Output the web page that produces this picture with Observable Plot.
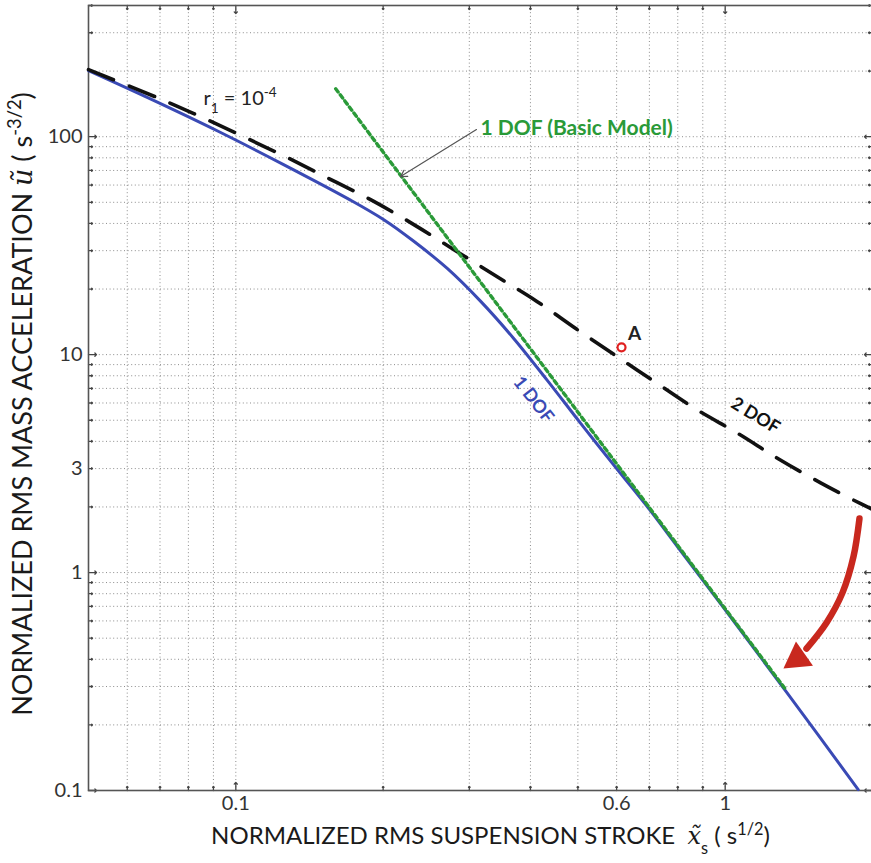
<!DOCTYPE html>
<html><head><meta charset="utf-8">
<script src="https://cdn.jsdelivr.net/npm/d3@7"></script>
<script src="https://cdn.jsdelivr.net/npm/@observablehq/plot@0.6"></script>
<style>
body{margin:0;background:#fff;}
#chart svg{display:block;}
</style></head><body><div id="chart"></div>
<script>
// ---- data ----
const twoDofX = [0.05, 0.0698, 0.0843, 0.1032, 0.127, 0.1553, 0.1902, 0.2329, 0.2812, 0.3408, 0.4116, 0.4968, 0.601, 0.7203, 0.8696, 1.065, 1.286, 1.567, 1.892, 2.0];
const twoDofU = [203, 149.7, 124.2, 100.5, 80.5, 64.1, 50.9, 39.1, 30.0, 22.9, 17.6, 13.1, 9.8, 7.47, 5.64, 4.33, 3.32, 2.58, 2.07, 1.95];
const oneDofX = [0.05, 0.0669, 0.0918, 0.1252, 0.1715, 0.2003, 0.2307, 0.2708, 0.3162, 0.3693, 0.4334, 0.5062, 0.6, 0.7, 0.8, 1.0, 1.33, 1.87];
const oneDofU = [201, 149.1, 106.2, 74.5, 51.2, 41.7, 33.2, 24.8, 17.6, 11.9, 7.6, 4.85, 3.0, 1.95, 1.31, 0.675, 0.286, 0.101];
const basicX = [0.16, 1.33];
const basicU = [166, 0.29];
const pointA = {x: 0.614, u: 10.8};

const xTickLabels = [0.1, 0.6, 1];
const yTickLabels = [0.1, 1, 3, 10, 100];
const xGrid = [0.06, 0.07, 0.08, 0.09, 0.1, 0.2, 0.3, 0.4, 0.5, 0.6, 0.7, 0.8, 0.9, 1, 2];
const yGrid = [0.2, 0.3, 0.4, 0.5, 0.6, 0.7, 0.8, 0.9, 1, 2, 3, 4, 5, 6, 7, 8, 9, 10, 20, 30, 40, 50, 60, 70, 80, 90, 100, 200, 300, 400];
const xMajor = [0.1, 1];
const yMajor = [0.1, 1, 10, 100];

// annotations
const labelText = ["r_{1} = 10^{-4}", "1 DOF (Basic Model)", "A", "2 DOF", "1 DOF"];
const labelX = [0.0859, 0.3162, 0.6528, 1.153, 0.4058];
const labelU = [149.5, 109, 12.5, 5.25, 6.22];
const pointerX = [0.3103, 0.2171];
const pointerU = [107.9, 65.6];
const redArrowX = [1.881, 1.829, 1.737, 1.611, 1.466];
const redArrowU = [1.77, 1.184, 0.809, 0.589, 0.4477];
const redHead = {x: 1.405, u: 0.403};

const xTitle = "NORMALIZED RMS SUSPENSION STROKE  *{x\u0303}_{s} ( s^{1/2})";
const yTitle = "NORMALIZED RMS MASS ACCELERATION *{\u0169} ( s^{-3/2})";

const pts = (xs, us) => xs.map((x, i) => ({x, u: us[i]}));
const minor = (all, major) => all.filter(d => !major.includes(d));

const gridStyle = {stroke: "#8c8c8c", strokeWidth: 1, strokeDasharray: "1,2.6"};
const tickStyle = {stroke: "#444", strokeWidth: 1.3};

const chart = Plot.plot({
  width: 871, height: 863,
  marginLeft: 88, marginRight: -1, marginTop: 5, marginBottom: 73,
  style: {fontFamily: "Lato, 'Open Sans', sans-serif", fontSize: "20px", background: "#fff", color: "#222"},
  x: {type: "log", domain: [0.05, 2]},
  y: {type: "log", domain: [0.1, 400]},
  marks: [
    Plot.ruleX(xGrid, gridStyle),
    Plot.ruleY(yGrid, gridStyle),
    Plot.axisX(xTickLabels, {tickSize: 0, tickPadding: 5, label: null, tickFormat: d => String(d), fill: "#333"}),
    Plot.axisY(yTickLabels, {tickSize: 0, tickPadding: 6, label: null, tickFormat: d => String(d), fill: "#333"}),
    // inward ticks on all four sides
    Plot.vector(yMajor, {y: d => d, frameAnchor: "left", rotate: 90, length: 8, anchor: "start", ...tickStyle}),
    Plot.vector(minor(yGrid, yMajor), {y: d => d, frameAnchor: "left", rotate: 90, length: 4, anchor: "start", ...tickStyle}),
    Plot.vector(yMajor, {y: d => d, frameAnchor: "right", rotate: -90, length: 8, anchor: "start", ...tickStyle}),
    Plot.vector(minor(yGrid, yMajor), {y: d => d, frameAnchor: "right", rotate: -90, length: 4, anchor: "start", ...tickStyle}),
    Plot.vector(xMajor, {x: d => d, frameAnchor: "bottom", rotate: 0, length: 8, anchor: "start", ...tickStyle}),
    Plot.vector(minor(xGrid, xMajor), {x: d => d, frameAnchor: "bottom", rotate: 0, length: 4, anchor: "start", ...tickStyle}),
    Plot.vector(xMajor, {x: d => d, frameAnchor: "top", rotate: 180, length: 8, anchor: "start", ...tickStyle}),
    Plot.vector(minor(xGrid, xMajor), {x: d => d, frameAnchor: "top", rotate: 180, length: 4, anchor: "start", ...tickStyle}),
    Plot.frame({stroke: "#555", strokeWidth: 1.6}),
    // curves
    Plot.line(pts(oneDofX, oneDofU), {x: "x", y: "u", stroke: "#3a4ab5", strokeWidth: 3, curve: "catmull-rom"}),
    Plot.line(pts(twoDofX, twoDofU), {x: "x", y: "u", stroke: "#111", strokeWidth: 3.6, strokeDasharray: "27,17", curve: "catmull-rom"}),
    Plot.line(pts(basicX, basicU), {x: "x", y: "u", stroke: "#2a9a38", strokeWidth: 3.4, strokeDasharray: "4,3.6"}),
    // point A
    Plot.dot([pointA], {x: "x", y: "u", r: 4, stroke: "#e02020", strokeWidth: 2.2, fill: "#fff"}),
    // pointer arrow
    Plot.arrow([0], {x1: () => pointerX[0], y1: () => pointerU[0], x2: () => pointerX[1], y2: () => pointerU[1], stroke: "#555", strokeWidth: 1.2, headLength: 9}),
    // red curved arrow
    Plot.line(pts(redArrowX, redArrowU), {x: "x", y: "u", stroke: "#c8281e", strokeWidth: 6.5, curve: "catmull-rom", strokeLinecap: "round"}),
    Plot.dot([redHead], {x: "x", y: "u", symbol: "triangle", r: 11, rotate: 235, fill: "#c8281e", stroke: "none"}),
    // annotations
    Plot.text([0], {x: i => labelX[i], y: i => labelU[i], text: i => labelText[i], textAnchor: "start", fontSize: 20, fill: "#222"}),
    Plot.text([1], {x: i => labelX[i], y: i => labelU[i], text: i => labelText[i], textAnchor: "start", fontSize: 21, fontWeight: "bold", fill: "#2a9a38"}),
    Plot.text([2], {x: i => labelX[i], y: i => labelU[i], text: i => labelText[i], fontSize: 19, fontWeight: "bold", fill: "#222"}),
    Plot.text([3], {x: i => labelX[i], y: i => labelU[i], text: i => labelText[i], fontSize: 18, fontWeight: "bold", fill: "#111", rotate: 31}),
    Plot.text([4], {x: i => labelX[i], y: i => labelU[i], text: i => labelText[i], fontSize: 18, fontWeight: "bold", fill: "#3a4ab5", rotate: 52}),
    // axis titles
    Plot.text([xTitle], {frameAnchor: "bottom", text: d => d, textAnchor: "middle", dx: 10, dy: 53, fontSize: 24, fill: "#1a1a1a"}),
    Plot.text([yTitle], {frameAnchor: "left", text: d => d, textAnchor: "middle", dx: -65, dy: 6, rotate: -90, fontSize: 27, fill: "#1a1a1a"})
  ]
});

// rich text: ^{sup}, _{sub}, *{italic}
function richify(el) {
  const s = el.textContent;
  if (!/[\^_*]\{/.test(s)) return;
  el.textContent = "";
  const re = /([\^_*])\{([^}]*)\}/g;
  let last = 0, m;
  const add = (t, kind) => {
    if (!t) return;
    const ts = document.createElementNS("http://www.w3.org/2000/svg", "tspan");
    ts.textContent = t;
    if (kind === "^") { ts.setAttribute("baseline-shift", "super"); ts.setAttribute("font-size", "68%"); }
    if (kind === "_") { ts.setAttribute("baseline-shift", "sub"); ts.setAttribute("font-size", "68%"); }
    if (kind === "*") { ts.setAttribute("font-style", "italic"); ts.setAttribute("font-family", "'DejaVu Serif', serif"); }
    el.appendChild(ts);
  };
  while ((m = re.exec(s))) {
    add(s.slice(last, m.index), "");
    add(m[2], m[1]);
    last = re.lastIndex;
  }
  add(s.slice(last), "");
}
chart.querySelectorAll("text").forEach(richify);
document.getElementById("chart").appendChild(chart);
</script>
</body></html>
